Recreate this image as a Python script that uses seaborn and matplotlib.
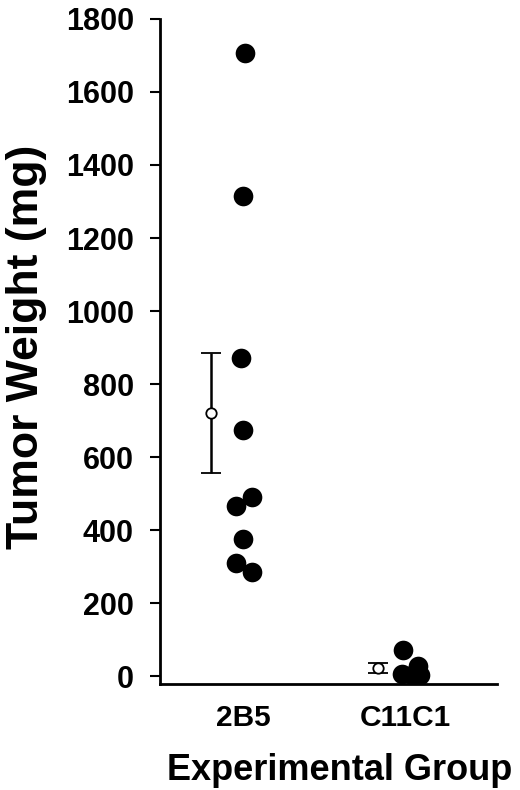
import numpy as np
import pandas as pd
import matplotlib
matplotlib.use('Agg')
import matplotlib.pyplot as plt
import seaborn as sns

groups = ['2B5', 'C11C1']
weights_2b5 = [1707, 1315, 870, 674, 490, 466, 375, 310, 285]
offsets_2b5 = [0.01, 0.0, -0.01, 0.0, 0.055, -0.045, 0.0, -0.045, 0.055]
weights_c11c1 = [71, 27, 5, 3, 3]
offsets_c11c1 = [-0.01, 0.08, -0.02, 0.04, 0.095]
mean_offset = [-0.2, -0.17]
yticks = [0, 200, 400, 600, 800, 1000, 1200, 1400, 1600, 1800]

sns.set_style('ticks')
plt.rcParams['font.family'] = ['Liberation Sans', 'DejaVu Sans']
plt.rcParams['font.weight'] = 'bold'
plt.rcParams['text.color'] = 'black'
plt.rcParams['axes.labelcolor'] = 'black'
plt.rcParams['xtick.color'] = 'black'
plt.rcParams['ytick.color'] = 'black'
plt.rcParams['axes.edgecolor'] = 'black'

rows = []
for w, o in zip(weights_2b5, offsets_2b5):
    rows.append({'group': groups[0], 'x': 0 + o, 'weight': w})
for w, o in zip(weights_c11c1, offsets_c11c1):
    rows.append({'group': groups[1], 'x': 1 + o, 'weight': w})
df = pd.DataFrame(rows)

fig = plt.figure(figsize=(5.2, 7.9), dpi=100)
ax = fig.add_axes([0.308, 0.134, 0.648, 0.842])

sns.scatterplot(data=df, x='x', y='weight', color='black', s=200,
                edgecolor='black', linewidth=0, ax=ax, legend=False, zorder=3)

for i, vals in enumerate([weights_2b5, weights_c11c1]):
    vals = np.array(vals, dtype=float)
    m = vals.mean()
    sem = vals.std(ddof=1) / np.sqrt(len(vals))
    ax.errorbar(i + mean_offset[i], m, yerr=sem, fmt='o', color='black',
                markerfacecolor='white', markeredgecolor='black', markersize=7.5,
                markeredgewidth=1.3, elinewidth=1.8, capsize=7, capthick=1.8, zorder=4)

ax.set_xlim(-0.512, 1.568)
ax.set_ylim(-22, 1800)
ax.set_yticks(yticks)
ax.set_yticklabels([str(t) for t in yticks], fontsize=22, fontweight='bold')
ax.set_xticks([0, 1])
ax.set_xticklabels(groups, fontsize=21.5, fontweight='bold')
ax.tick_params(axis='x', length=0, pad=14)
ax.tick_params(axis='y', length=7, width=1.5, pad=12)
for s in ['left', 'bottom']:
    ax.spines[s].set_linewidth(2)
sns.despine(ax=ax)

ax.set_ylabel('Tumor Weight (mg)', fontsize=32, fontweight='bold')
ax.yaxis.set_label_coords(-0.335, 0.507)
ax.set_xlabel('Experimental Group', fontsize=26, fontweight='bold')
ax.xaxis.set_label_coords(0.534, -0.103)

fig.savefig('out.png', dpi=100)
